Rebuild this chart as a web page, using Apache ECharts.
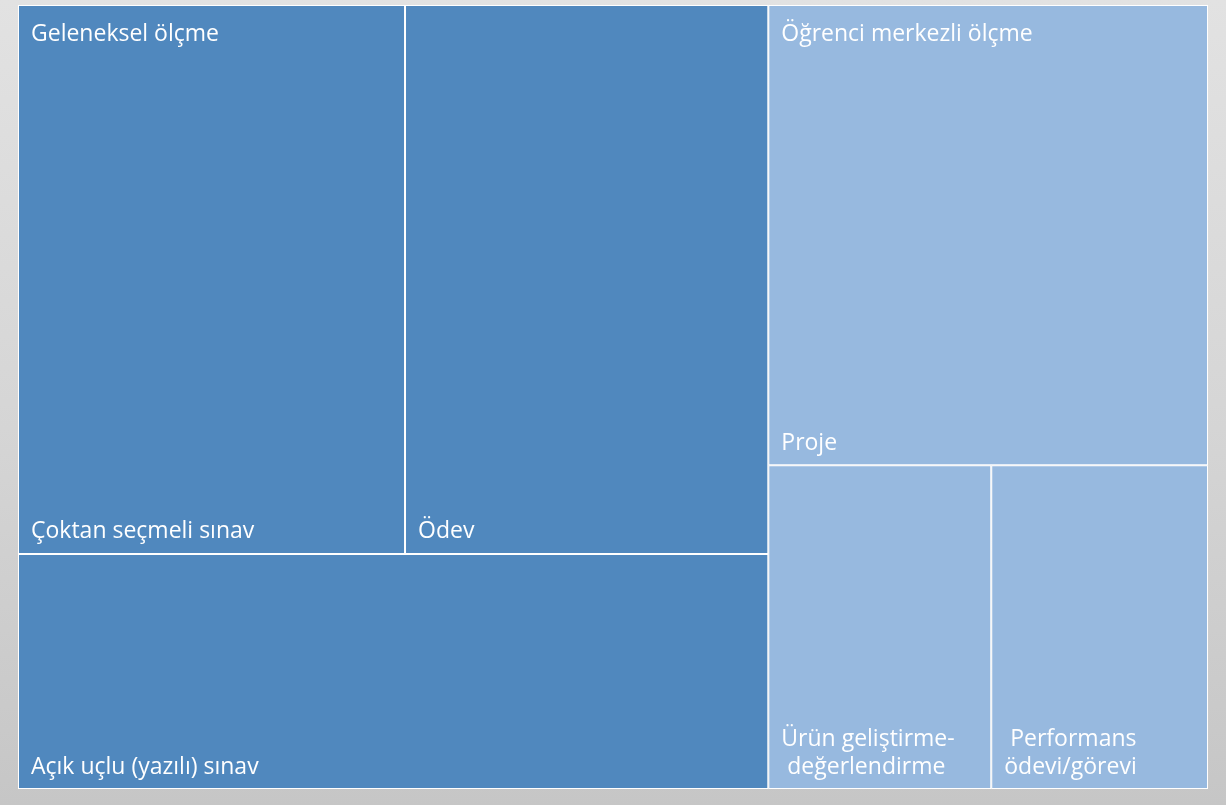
<!DOCTYPE html>
<html>
<head>
<meta charset="utf-8">
<script src="https://cdn.jsdelivr.net/npm/echarts@6/dist/echarts.min.js"></script>
<style>
  html, body { margin: 0; padding: 0; }
  body { background: linear-gradient(180deg, #e2e2e2 0%, #d6d6d6 50%, #c6c6c6 100%); }
  #main { width: 1226px; height: 805px; }
</style>
</head>
<body>
<div id="main"></div>
<script>
// gruplar
var groupNames = ['Geleneksel ölçme', 'Öğrenci merkezli ölçme'];
var groupColors = ['#5088be', '#97b9df'];

// yapraklar (alanlardan okunan değerler)
var traditionalNames = ['Çoktan seçmeli sınav', 'Ödev', 'Açık uçlu (yazılı) sınav'];
var traditionalValues = [212, 199, 176];
var studentNames = ['Proje', 'Ürün geliştirme-\n değerlendirme', ' Performans\nödevi/görevi'];
var studentValues = [202, 72, 70];

var chart = echarts.init(document.getElementById('main'));

function leaves(names, values) {
  return names.map(function (n, i) {
    return { name: n, value: values[i] };
  });
}

function sum(arr) {
  return arr.reduce(function (a, b) { return a + b; }, 0);
}

var groups = [
  { name: groupNames[0], children: leaves(traditionalNames, traditionalValues), color: groupColors[0] },
  { name: groupNames[1], children: leaves(studentNames, studentValues), color: groupColors[1] }
];

var box = { left: 18, top: 5, width: 1190, height: 784 };
var font = '"Open Sans", Lato, sans-serif';
var noBorder = { borderWidth: 0, gapWidth: 0, borderColor: 'rgba(0,0,0,0)' };

var option = {
  animation: false,
  series: [
    {
      type: 'treemap',
      left: box.left, top: box.top, width: box.width, height: box.height,
      roam: false,
      nodeClick: false,
      squareRatio: 1,
      breadcrumb: { show: false },
      silent: true,
      data: groups.map(function (g) {
        return { name: g.name, children: g.children, itemStyle: { color: g.color } };
      }),
      levels: [
        { itemStyle: noBorder },
        { itemStyle: noBorder, upperLabel: { show: false } },
        {
          itemStyle: { borderWidth: 1, borderColor: '#ffffff', gapWidth: 0 },
          label: {
            show: true,
            position: 'insideBottomLeft',
            color: '#ffffff',
            fontFamily: font,
            fontSize: 23,
            lineHeight: 28,
            padding: [0, 0, 7, 12],
            overflow: 'none'
          }
        }
      ]
    },
    {
      // grup adları aynı düzen üzerinde sol üst köşeye
      type: 'treemap',
      z: 5,
      left: box.left, top: box.top, width: box.width, height: box.height,
      roam: false,
      nodeClick: false,
      squareRatio: 1,
      breadcrumb: { show: false },
      silent: true,
      data: groups.map(function (g) {
        return {
          name: g.name,
          value: sum(g.children.map(function (c) { return c.value; })),
          itemStyle: { color: 'rgba(0,0,0,0)', borderColor: 'rgba(0,0,0,0)', borderWidth: 0 }
        };
      }),
      levels: [
        { itemStyle: noBorder },
        {
          itemStyle: noBorder,
          label: {
            show: true,
            position: 'insideTopLeft',
            color: '#ffffff',
            fontFamily: font,
            fontSize: 23,
            lineHeight: 28,
            padding: [15, 0, 0, 13],
            overflow: 'none'
          }
        }
      ]
    }
  ]
};

chart.setOption(option);
</script>
</body>
</html>
